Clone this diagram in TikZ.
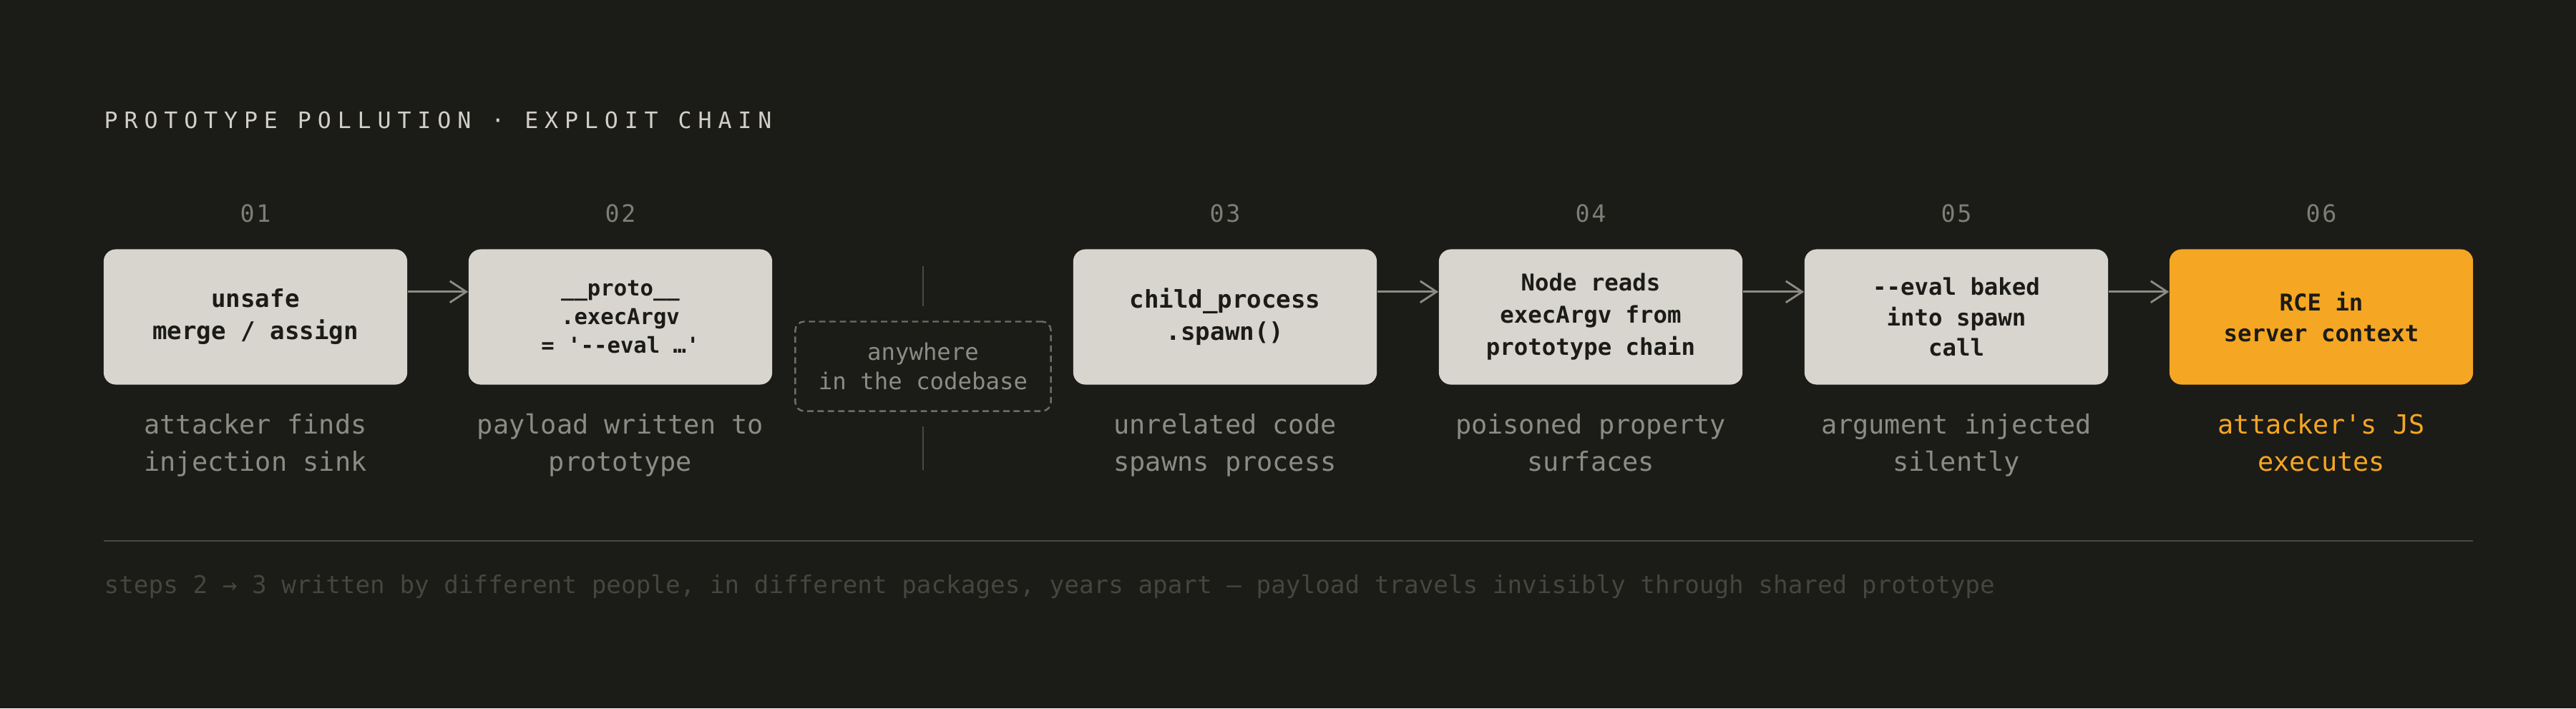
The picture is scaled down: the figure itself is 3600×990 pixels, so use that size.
\documentclass[tikz,border=0pt]{standalone}
\usepackage{fontspec}
\setmonofont{DejaVu Sans Mono}
\newfontfamily\titlefont[LetterSpace=28]{DejaVu Sans Mono}
\newfontfamily\numfont[LetterSpace=8]{DejaVu Sans Mono}
\usepackage{xcolor}
\usepackage{tikz}
\usetikzlibrary{arrows.meta, positioning, calc}

\definecolor{bgdark}{HTML}{1B1B17}
\definecolor{boxgray}{HTML}{D8D5CF}
\definecolor{hotorange}{HTML}{F5A623}
\definecolor{ink}{HTML}{1B1B17}
\definecolor{titlegray}{HTML}{D2CFC8}
\definecolor{numgray}{HTML}{7E7D78}
\definecolor{capgray}{HTML}{8C8B86}
\definecolor{dashgray}{HTML}{6E6D68}
\definecolor{linegray}{HTML}{4A4945}
\definecolor{footgray}{HTML}{46453F}

\begin{document}
\begin{tikzpicture}[x=0.01cm, y=-0.01cm,
    box/.style={fill=boxgray, rounded corners=4.8pt, minimum width=4.24cm, minimum height=1.89cm,
        inner sep=0pt, align=center, text=ink},
    hotbox/.style={box, fill=hotorange},
    stepnum/.style={text=numgray, font=\numfont\fontsize{9.5}{11}\selectfont},
    caption/.style={text=capgray, align=center, font=\ttfamily\fontsize{10.5}{14.8}\selectfont,
        execute at begin node=\strut, execute at end node=\strut},
    note/.style={draw=dashgray, line width=0.7pt, dash pattern=on 2.5pt off 1.6pt, rounded corners=3.5pt,
        minimum width=3.57cm, minimum height=1.25cm, align=center, text=capgray,
        font=\ttfamily\fontsize{9.2}{11.7}\selectfont},
    flow/.style={draw=capgray, line width=0.8pt, -{Straight Barb[length=6.5pt, width=8.5pt]}},
    vline/.style={draw=linegray, line width=0.7pt}]
    % background
    \fill[bgdark] (0,0) rectangle (3600,990);
    \node[anchor=west, inner sep=0pt, text=titlegray, font=\titlefont\fontsize{9}{11}\selectfont] (title) at (145,168) {PROTOTYPE POLLUTION · EXPLOIT CHAIN};

    % step boxes
    \node[box, font=\ttfamily\bfseries\fontsize{9.7}{12.8}\selectfont] (b1) at (357,443) {unsafe\\merge / assign};
    \node[box, font=\ttfamily\bfseries\fontsize{8.7}{11.4}\selectfont] (b2) at (867,443) {\_\_proto\_\_\\.execArgv\\= '--eval …'};
    \node[box, font=\ttfamily\bfseries\fontsize{9.7}{12.8}\selectfont] (b3) at (1712,443) {child\_process\\.spawn()};
    \node[box, font=\ttfamily\bfseries\fontsize{9.2}{12.8}\selectfont] (b4) at (2223,443) {Node reads\\execArgv from\\prototype chain};
    \node[box, font=\ttfamily\bfseries\fontsize{9.2}{12.1}\selectfont] (b5) at (2734,443) {--eval baked\\into spawn\\call};
    \node[hotbox, font=\ttfamily\bfseries\fontsize{9.2}{12.2}\selectfont] (b6) at (3244,443) {RCE in\\server context};

    % step numbers
    \node[stepnum] (n1) at (357,298) {01};
    \node[stepnum] (n2) at (867,298) {02};
    \node[stepnum] (n3) at (1712,298) {03};
    \node[stepnum] (n4) at (2223,298) {04};
    \node[stepnum] (n5) at (2734,298) {05};
    \node[stepnum] (n6) at (3244,298) {06};

    % captions
    \node[caption] (c1) at (357,626) {attacker finds\\injection sink};
    \node[caption] (c2) at (867,626) {payload written to\\prototype};
    \node[caption] (c3) at (1712,626) {unrelated code\\spawns process};
    \node[caption] (c4) at (2223,626) {poisoned property\\surfaces};
    \node[caption] (c5) at (2734,626) {argument injected\\silently};
    \node[caption, text=hotorange] (c6) at (3244,626) {attacker's JS\\executes};

    % gap between 02 and 03
    \node[note] (gap) at (1290,512) {anywhere\\in the codebase};
    \coordinate (gaptop) at (1290,372);
    \coordinate (gapbot) at (1290,657);
    \draw[vline] (gaptop) -- ([yshift=5.7pt]gap.north);
    \draw[vline] ([yshift=-5.7pt]gap.south) -- (gapbot);

    % arrows
    \draw[flow] ([yshift=10pt]b1.east) -- ([yshift=10pt]b2.west);
    \draw[flow] ([yshift=10pt]b3.east) -- ([yshift=10pt]b4.west);
    \draw[flow] ([yshift=10pt]b4.east) -- ([yshift=10pt]b5.west);
    \draw[flow] ([yshift=10pt]b5.east) -- ([yshift=10pt]b6.west);

    % footer
    \draw[linegray, line width=0.8pt] (145,756) -- (3456,756);
    \node[anchor=west, inner sep=0pt, text=footgray, font=\ttfamily\fontsize{9.75}{11}\selectfont] (foot) at (145,820) {steps 2 → 3 written by different people, in different packages, years apart — payload travels invisibly through shared prototype};
\end{tikzpicture}
\end{document}
